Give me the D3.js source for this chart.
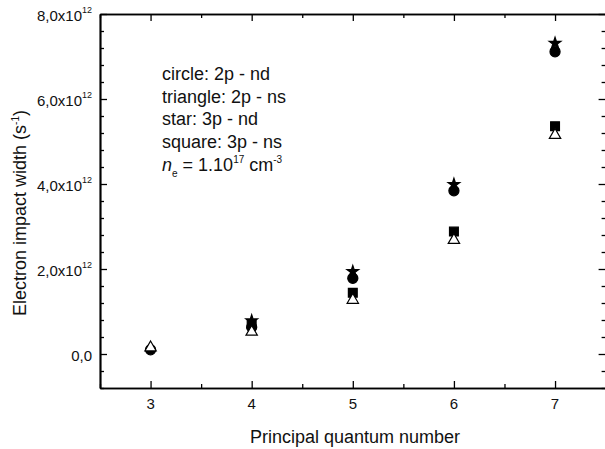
<!DOCTYPE html>
<html><head><meta charset="utf-8">
<script src="https://cdn.jsdelivr.net/npm/d3@7"></script>
<style>html,body{margin:0;padding:0;background:#fff;}svg{display:block;font-family:"Liberation Sans",Arial,Helvetica,sans-serif;}</style>
</head><body>
<svg id="chart" width="605" height="449"></svg>
<script>
// Data (values in s^-1)
const nValues = [3, 4, 5, 6, 7];
const circle2pnd   = [0.10e12, 0.63e12, 1.78e12, 3.84e12, 7.11e12];
const triangle2pns = [0.15e12, 0.52e12, 1.27e12, 2.68e12, 5.15e12];
const star3pnd     = [null,    0.78e12, 1.94e12, 3.99e12, 7.31e12];
const square3pns   = [null,    0.70e12, 1.44e12, 2.88e12, 5.36e12];
const xTicks = [3, 4, 5, 6, 7];
const yTicks = [0, 2e12, 4e12, 6e12, 8e12];
const yTickLabels = ["0,0", "2,0x10", "4,0x10", "6,0x10", "8,0x10"];
const yTickSup = ["", "12", "12", "12", "12"];
const legendLines = ["circle: 2p - nd", "triangle: 2p - ns", "star: 3p - nd", "square: 3p - ns"];

const svg = d3.select("#chart");
const L = 100, R = 605.6, T = 14, B = 388;
const x = d3.scaleLinear().domain([2.5, 7.5]).range([L, R]);
const y = d3.scaleLinear().domain([-0.8e12, 8e12]).range([B, T]);

const xMinor = d3.range(2.5, 7.51, 0.5).filter(v => Math.abs(v - Math.round(v)) > 0.1);
const yMinor = d3.range(-0.8e12, 8.01e12, 0.4e12).filter(v => Math.abs(v / 2e12 - Math.round(v / 2e12)) > 0.01);

function styleAxis(g, w) {
  g.select(".domain").attr("stroke", "#000").attr("stroke-width", 1.7);
  g.selectAll(".tick line").attr("stroke", "#000").attr("stroke-width", w);
  g.selectAll(".tick text").remove();
}
const axes = [
  [d3.axisBottom(x).tickValues(xTicks), `translate(0,${B})`],
  [d3.axisTop(x).tickValues(xTicks), `translate(0,${T})`],
  [d3.axisLeft(y).tickValues(yTicks), `translate(${L},0)`],
  [d3.axisRight(y).tickValues(yTicks), `translate(${R},0)`]
];
axes.forEach(([ax, tr]) => {
  const g = svg.append("g").attr("transform", tr).call(ax.tickSize(-7).tickSizeOuter(0).tickFormat(""));
  styleAxis(g, 1.3);
});
const minorAxes = [
  [d3.axisBottom(x).tickValues(xMinor), `translate(0,${B})`],
  [d3.axisTop(x).tickValues(xMinor), `translate(0,${T})`],
  [d3.axisLeft(y).tickValues(yMinor), `translate(${L},0)`],
  [d3.axisRight(y).tickValues(yMinor), `translate(${R},0)`]
];
minorAxes.forEach(([ax, tr]) => {
  const g = svg.append("g").attr("transform", tr).call(ax.tickSize(-4).tickSizeOuter(0).tickFormat(""));
  styleAxis(g, 1.3);
});

// x tick labels
svg.append("g").selectAll("text").data(xTicks).join("text")
  .attr("x", d => x(d)).attr("y", B + 21)
  .attr("text-anchor", "middle").attr("font-size", 15).attr("fill", "#111")
  .text(d => d);

// y tick labels
const yl = svg.append("g").selectAll("text").data(yTicks).join("text")
  .attr("x", L - 8).attr("y", d => y(d) + 7)
  .attr("text-anchor", "end").attr("font-size", 15).attr("fill", "#111");
yl.each(function(d, i) {
  const t = d3.select(this);
  t.append("tspan").text(yTickLabels[i]);
  if (yTickSup[i]) t.append("tspan").attr("dy", -8).attr("font-size", 9).text(yTickSup[i]);
});

// axis titles
svg.append("text").attr("x", 355).attr("y", 443).attr("text-anchor", "middle")
  .attr("font-size", 18).attr("fill", "#111").text("Principal quantum number");
const yt = svg.append("text").attr("transform", "translate(26,213) rotate(-90)")
  .attr("text-anchor", "middle").attr("font-size", 18).attr("fill", "#111");
yt.append("tspan").text("Electron impact width (s");
yt.append("tspan").attr("dy", -7).attr("font-size", 10).text("-1");
yt.append("tspan").attr("dy", 7).text(")");

// annotation
const ann = svg.append("g").attr("fill", "#111").attr("font-size", 18);
legendLines.forEach((s, i) => {
  ann.append("text").attr("x", 162).attr("y", 80 + i * 22.5).text(s);
});
const ne = ann.append("text").attr("x", 162).attr("y", 170.5);
ne.append("tspan").attr("font-style", "italic").text("n");
ne.append("tspan").attr("dy", 6).attr("font-size", 10).text("e");
ne.append("tspan").attr("dy", -6).text(" = 1.10");
ne.append("tspan").attr("dy", -8).attr("font-size", 10).text("17");
ne.append("tspan").attr("dy", 8).text(" cm");
ne.append("tspan").attr("dy", -8).attr("font-size", 10).text("-3");

// markers
function pts(arr) { return nValues.map((n, i) => ({n, v: arr[i]})).filter(d => d.v !== null); }
const series = [
  {data: circle2pnd, type: d3.symbolCircle, size: 80, fill: "#000"},
  {data: square3pns, type: d3.symbolSquare, size: 78, fill: "#000"},
  {data: triangle2pns, type: d3.symbolTriangle, size: 56, fill: "#fff"},
  {data: star3pnd, type: d3.symbolStar, size: 42, fill: "#000"}
];
series.forEach(s => {
  svg.append("g").selectAll("path").data(pts(s.data)).join("path")
    .attr("transform", d => `translate(${x(d.n)},${y(d.v)})`)
    .attr("d", d3.symbol().type(s.type).size(s.size))
    .attr("fill", s.fill).attr("stroke", "#000").attr("stroke-width", 1.2);
});
</script>
</body></html>
